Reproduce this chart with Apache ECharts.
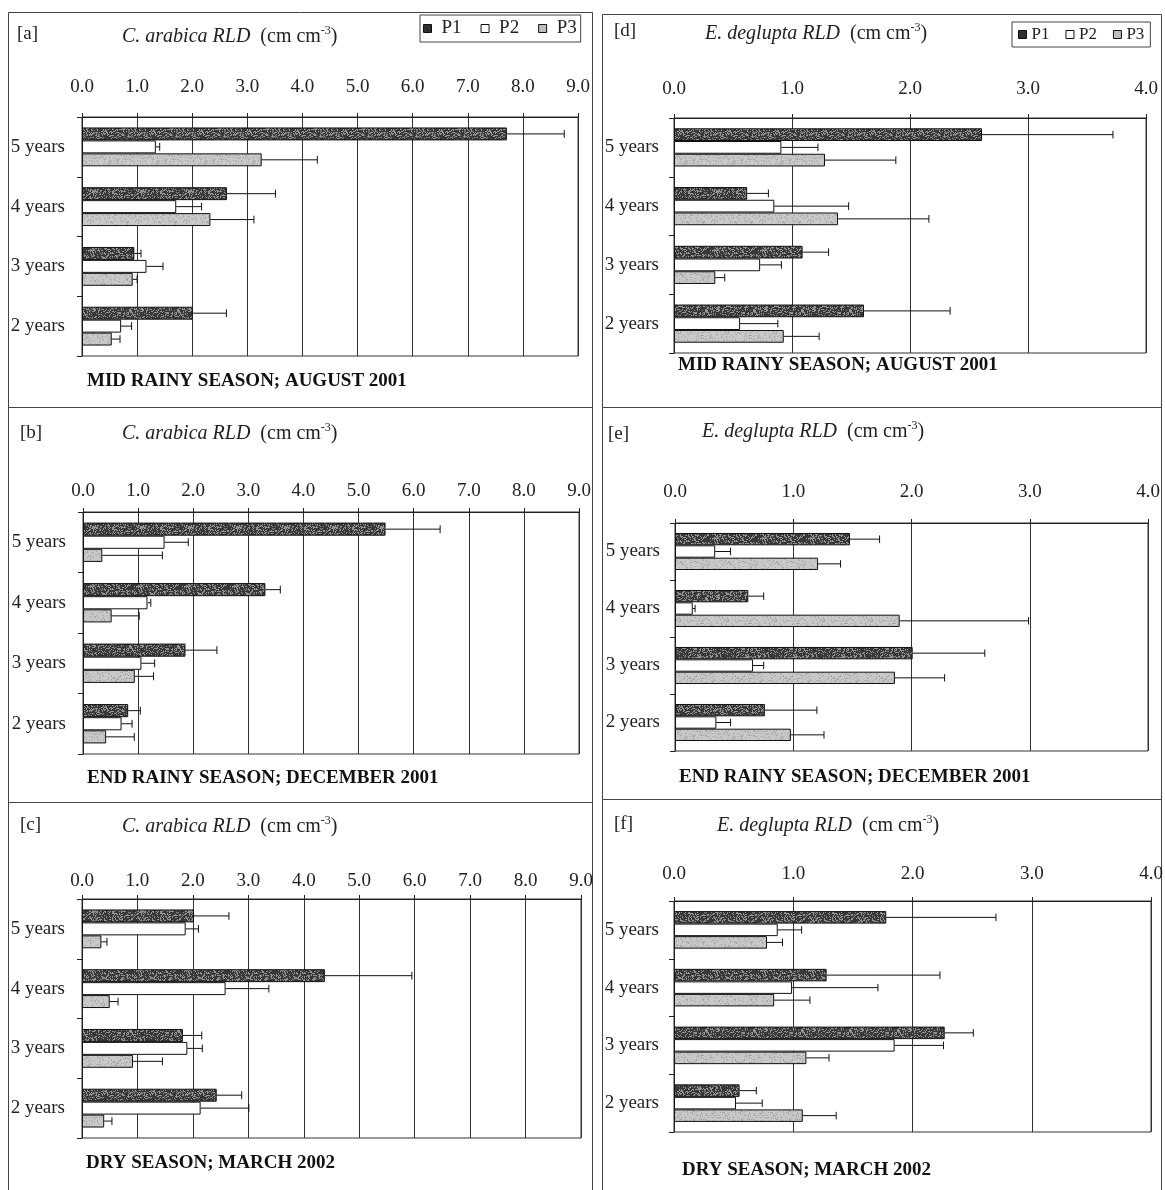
<!DOCTYPE html>
<html>
<head>
<meta charset="utf-8">
<script src="https://cdn.jsdelivr.net/npm/echarts@6/dist/echarts.min.js"></script>
<style>
html,body{margin:0;padding:0;background:#fff;}
#chart{width:1165px;height:1190px;}
</style>
</head>
<body>
<div id="chart"></div>
<script>
// ---------------- DATA ----------------
const categories = ['5 years', '4 years', '3 years', '2 years'];
const seriesNames = ['P1', 'P2', 'P3'];
const xTicksArabica = [0, 9];   // axis range (min, max), step 1.0
const xTicksDeglupta = [0, 4];

// [a] C. arabica, mid rainy season Aug 2001
const aP1 = [7.71, 2.63, 0.95, 2.01];
const aP1Err = [1.04, 0.88, 0.12, 0.61];
const aP2 = [1.34, 1.71, 1.17, 0.71];
const aP2Err = [0.07, 0.46, 0.30, 0.19];
const aP3 = [3.26, 2.33, 0.92, 0.54];
const aP3Err = [1.01, 0.79, 0.08, 0.15];

// [b] C. arabica, end rainy season Dec 2001
const bP1 = [5.49, 3.31, 1.86, 0.82];
const bP1Err = [0.99, 0.27, 0.57, 0.22];
const bP2 = [1.48, 1.17, 1.06, 0.70];
const bP2Err = [0.43, 0.06, 0.24, 0.19];
const bP3 = [0.35, 0.52, 0.94, 0.42];
const bP3Err = [1.09, 0.50, 0.34, 0.51];

// [c] C. arabica, dry season Mar 2002
const cP1 = [2.02, 4.38, 1.82, 2.43];
const cP1Err = [0.63, 1.57, 0.34, 0.45];
const cP2 = [1.87, 2.59, 1.90, 2.14];
const cP2Err = [0.23, 0.78, 0.27, 0.87];
const cP3 = [0.35, 0.50, 0.92, 0.40];
const cP3Err = [0.10, 0.15, 0.53, 0.14];

// [d] E. deglupta, mid rainy season Aug 2001
const dP1 = [2.61, 0.62, 1.09, 1.61];
const dP1Err = [1.11, 0.18, 0.22, 0.73];
const dP2 = [0.91, 0.85, 0.73, 0.56];
const dP2Err = [0.31, 0.63, 0.18, 0.32];
const dP3 = [1.28, 1.39, 0.35, 0.93];
const dP3Err = [0.60, 0.77, 0.08, 0.30];

// [e] E. deglupta, end rainy season Dec 2001
const eP1 = [1.48, 0.62, 2.01, 0.76];
const eP1Err = [0.25, 0.13, 0.61, 0.44];
const eP2 = [0.34, 0.15, 0.66, 0.35];
const eP2Err = [0.13, 0.02, 0.09, 0.12];
const eP3 = [1.21, 1.90, 1.86, 0.98];
const eP3Err = [0.19, 1.09, 0.42, 0.28];

// [f] E. deglupta, dry season Mar 2002
const fP1 = [1.78, 1.28, 2.27, 0.55];
const fP1Err = [0.92, 0.95, 0.24, 0.14];
const fP2 = [0.87, 0.99, 1.85, 0.52];
const fP2Err = [0.20, 0.72, 0.41, 0.22];
const fP3 = [0.78, 0.84, 1.11, 1.08];
const fP3Err = [0.13, 0.30, 0.19, 0.28];

const panelLabels = ['[a]', '[b]', '[c]', '[d]', '[e]', '[f]'];
const speciesNames = ['C. arabica RLD', 'C. arabica RLD', 'C. arabica RLD', 'E. deglupta RLD', 'E. deglupta RLD', 'E. deglupta RLD'];
const seasonNames = ['MID RAINY SEASON; AUGUST 2001', 'END RAINY SEASON; DECEMBER 2001', 'DRY SEASON; MARCH 2002',
                     'MID RAINY SEASON; AUGUST 2001', 'END RAINY SEASON; DECEMBER 2001', 'DRY SEASON; MARCH 2002'];

// ---------------- LAYOUT ----------------
const FONT = 'Liberation Serif';
const panels = [
  { vals: [aP1, aP2, aP3], errs: [aP1Err, aP2Err, aP3Err], range: xTicksArabica,
    grid: { left: 82, top: 117, width: 496, height: 239 }, xMargin: 20, yMargin: 17,
    lab: [17, 25], tit: [122, 25], sub: [87, 372], frame: [8, 12, 584, 395] },
  { vals: [bP1, bP2, bP3], errs: [bP1Err, bP2Err, bP3Err], range: xTicksArabica,
    grid: { left: 83, top: 512, width: 496, height: 242 }, xMargin: 11, yMargin: 17,
    lab: [20, 424], tit: [122, 422], sub: [87, 769], frame: [8, 407, 584, 395] },
  { vals: [cP1, cP2, cP3], errs: [cP1Err, cP2Err, cP3Err], range: xTicksArabica,
    grid: { left: 82, top: 899, width: 499, height: 239 }, xMargin: 8, yMargin: 17,
    lab: [20, 816], tit: [122, 815], sub: [86, 1154], frame: [8, 802, 584, 400] },
  { vals: [dP1, dP2, dP3], errs: [dP1Err, dP2Err, dP3Err], range: xTicksDeglupta,
    grid: { left: 674, top: 118, width: 472, height: 235 }, xMargin: 19, yMargin: 15,
    lab: [614, 22], tit: [705, 22], sub: [678, 356], frame: [602, 14, 559, 393] },
  { vals: [eP1, eP2, eP3], errs: [eP1Err, eP2Err, eP3Err], range: xTicksDeglupta,
    grid: { left: 675, top: 523, width: 473, height: 228 }, xMargin: 21, yMargin: 15,
    lab: [608, 425], tit: [702, 420], sub: [679, 768], frame: [602, 407, 559, 392] },
  { vals: [fP1, fP2, fP3], errs: [fP1Err, fP2Err, fP3Err], range: xTicksDeglupta,
    grid: { left: 674, top: 901, width: 477, height: 231 }, xMargin: 17, yMargin: 15,
    lab: [614, 815], tit: [717, 814], sub: [682, 1161], frame: [602, 799, 559, 400] }
];

// ---------------- STYLES ----------------
function hash(i, j, seed) {
  let h = (i * 374761393 + j * 668265263 + seed * 982451653) | 0;
  h = Math.imul(h ^ (h >>> 13), 1274126177);
  h = h ^ (h >>> 16);
  return (h >>> 0) % 100;
}
function makePattern(base, dot, density, seed) {
  const c = document.createElement('canvas');
  c.width = 48; c.height = 48;
  const ctx = c.getContext('2d');
  ctx.fillStyle = base; ctx.fillRect(0, 0, 48, 48);
  ctx.fillStyle = dot;
  for (let i = 0; i < 48; i++) {
    for (let j = 0; j < 48; j++) {
      if (hash(i, j, seed) < density) ctx.fillRect(i, j, 1, 1);
    }
  }
  return c;
}
const p1Pattern = { image: makePattern('#383838', '#939393', 32, 5), repeat: 'repeat' };
const p3Pattern = { image: makePattern('#c8c8c8', '#a6a6a6', 16, 11), repeat: 'repeat' };
const barColors = [p1Pattern, '#ffffff', p3Pattern];

const BAR_FRACTION = 0.65;

function errRender(params, api) {
  const v = api.value(0), cat = api.value(1), e = api.value(2), si = api.value(3);
  const start = api.coord([v, cat]);
  const end = api.coord([v + e, cat]);
  const band = api.size([0, 1])[1];
  const bh = band * BAR_FRACTION / 3;
  const yc = start[1] - 1.5 * bh + (si + 0.5) * bh;
  const cap = bh * 0.3;
  return {
    type: 'group',
    children: [
      { type: 'line', shape: { x1: start[0], y1: yc, x2: end[0], y2: yc }, style: { stroke: '#111', lineWidth: 1 } },
      { type: 'line', shape: { x1: end[0], y1: yc - cap, x2: end[0], y2: yc + cap }, style: { stroke: '#111', lineWidth: 1 } }
    ]
  };
}

const grids = [], xAxes = [], yAxes = [], series = [], titles = [], graphics = [];
panels.forEach((p, k) => {
  grids.push(Object.assign({ show: true, borderColor: '#333', borderWidth: 1, backgroundColor: 'transparent',
    containLabel: false, outerBoundsMode: 'none' }, p.grid));
  xAxes.push({
    type: 'value', gridIndex: k, position: 'top', min: p.range[0], max: p.range[1], interval: 1,
    axisLine: { show: true, lineStyle: { color: '#222', width: 1 } },
    axisTick: { show: true, length: 4, lineStyle: { color: '#222' } },
    splitLine: { show: true, lineStyle: { color: '#333', width: 1 } },
    axisLabel: { formatter: v => v.toFixed(1), fontFamily: FONT, fontSize: 19, color: '#222', margin: p.xMargin }
  });
  yAxes.push({
    type: 'category', gridIndex: k, data: categories, inverse: true,
    axisLine: { show: true, lineStyle: { color: '#222' } },
    axisTick: { show: true, length: 5, lineStyle: { color: '#222' } },
    splitLine: { show: false },
    axisLabel: { fontFamily: FONT, fontSize: 19, color: '#222', margin: p.yMargin }
  });
  seriesNames.forEach((name, si) => {
    series.push({
      type: 'bar', name: name, xAxisIndex: k, yAxisIndex: k,
      data: p.vals[si], barGap: '0%', barCategoryGap: '35%',
      itemStyle: { color: barColors[si], borderColor: '#111', borderWidth: 1 },
      emphasis: { disabled: true }, z: 2
    });
  });
  seriesNames.forEach((name, si) => {
    series.push({
      type: 'custom', name: name + ' SE', xAxisIndex: k, yAxisIndex: k,
      data: p.vals[si].map((v, i) => [v, i, p.errs[si][i], si]),
      encode: { x: 0, y: 1 }, renderItem: errRender, z: 3, silent: true
    });
  });
  titles.push({ text: panelLabels[k], left: p.lab[0], top: p.lab[1], padding: 0,
    textStyle: { fontFamily: FONT, fontSize: 19, fontWeight: 'normal', color: '#222' } });
  titles.push({
    text: '{i|' + speciesNames[k] + '}{n|  (cm cm}{s|-3}{n|)}', left: p.tit[0], top: p.tit[1], padding: 0,
    textStyle: { fontFamily: FONT, fontSize: 20, fontWeight: 'normal', color: '#222',
      rich: {
        i: { fontFamily: FONT, fontSize: 20, fontStyle: 'italic', color: '#222', lineHeight: 24 },
        n: { fontFamily: FONT, fontSize: 20, color: '#222', lineHeight: 24 },
        s: { fontFamily: FONT, fontSize: 12, color: '#222', verticalAlign: 'top', lineHeight: 12 }
      } }
  });
  titles.push({ text: seasonNames[k], left: p.sub[0], top: p.sub[1], padding: 0,
    textStyle: { fontFamily: FONT, fontSize: 19, fontWeight: 'bold', color: '#111' } });
  graphics.push({ type: 'rect', shape: { x: p.frame[0] + 0.5, y: p.frame[1] + 0.5, width: p.frame[2], height: p.frame[3] },
    style: { fill: 'none', stroke: '#444', lineWidth: 1 }, silent: true, z: -1 });
});

const legendData = [
  { name: 'P1', itemStyle: { color: '#2e2e2e', borderColor: '#111', borderWidth: 1 } },
  { name: 'P2', itemStyle: { color: '#ffffff', borderColor: '#111', borderWidth: 1 } },
  { name: 'P3', itemStyle: { color: '#bdbdbd', borderColor: '#111', borderWidth: 1 } }
];

const option = {
  animation: false,
  backgroundColor: '#ffffff',
  title: titles,
  legend: [
    { data: legendData, left: 420, top: 15, orient: 'horizontal', selectedMode: false,
      icon: 'path://M0,0L10,0L10,10L0,10Z', itemWidth: 18, itemHeight: 8, itemGap: 19,
      padding: [4, 4, 4, 3], borderColor: '#444', borderWidth: 1,
      textStyle: { fontFamily: FONT, fontSize: 19, color: '#222' } },
    { data: legendData, left: 1012, top: 22, orient: 'horizontal', selectedMode: false,
      icon: 'rect', itemWidth: 8, itemHeight: 8, itemGap: 16,
      padding: [4, 6, 4, 6], borderColor: '#444', borderWidth: 1,
      textStyle: { fontFamily: FONT, fontSize: 17, color: '#222' } }
  ],
  grid: grids,
  xAxis: xAxes,
  yAxis: yAxes,
  series: series,
  graphic: graphics
};

const chart = echarts.init(document.getElementById('chart'), null, { renderer: 'canvas' });
chart.setOption(option);
</script>
</body>
</html>
